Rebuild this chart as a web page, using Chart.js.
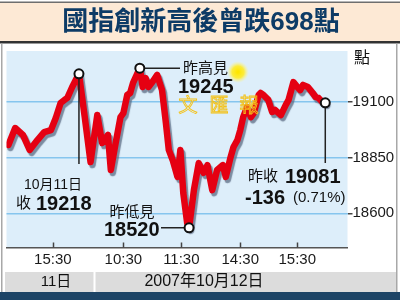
<!DOCTYPE html>
<html>
<head>
<meta charset="utf-8">
<script src="https://cdn.jsdelivr.net/npm/chart.js@4.4.0/dist/chart.umd.min.js"></script>
<style>
    html, body { margin: 0; padding: 0; background: #fff; }
</style>
</head>
<body>
<canvas id="chartCanvas" width="400" height="300"></canvas>
<script>
// minutes on a compressed trading timeline, 0 = 15:30 on the 11th
const times = [-46, -39, -31, -24, -16, -9, -2, 3, 8, 12, 15, 20, 27, 33, 39, 46, 51, 57, 60, 65,
    70, 73, 77, 80, 83, 90, 93, 96, 99, 103, 108, 113, 117, 120, 124, 129, 132, 135, 139, 141,
    146, 151, 156, 160, 165, 170, 176, 179, 184, 187, 191, 194, 197, 201, 205, 208, 213, 215, 218, 223,
    227, 230, 236, 241, 244, 249, 253, 256, 259, 264, 269, 272, 275, 279, 282];
const index = [18906, 18982, 18951, 18884, 18928, 18964, 18973, 19027, 19094, 19108, 19117, 19166, 19225, 19031, 18830, 19040, 18915, 18951, 18794, 18915,
    19031, 19049, 19130, 19139, 19184, 19250, 19166, 19206, 19166, 19188, 19220, 19152, 19005, 18884, 18839, 18763, 18884, 18691, 18557, 18535,
    18704, 18825, 18781, 18816, 18704, 18794, 18816, 18763, 18852, 18897, 18928, 18973, 19031, 19076, 19031, 19049, 19130, 19139, 19130, 19108,
    19054, 19063, 19040, 19085, 19108, 19188, 19166, 19152, 19175, 19166, 19139, 19121, 19117, 19099, 19095];

// marked points: 11th close, day high, day low, close
const markTimes = [27, 90, 141, 282];
const markValues = [19225, 19250, 18535, 19095];

const tickTimes = [0, 73, 133, 194, 253];
const tickLabels = ['15:30', '10:30', '11:30', '14:30', '15:30'];
const levelTicks = [18600, 18850, 19100];

const LATIN = '"Liberation Sans", "Noto Sans CJK TC", sans-serif';
const CJK = '"Liberation Sans", "Noto Sans CJK TC", sans-serif';

function put(ctx, text, x, y, font, align) {
    ctx.font = font;
    ctx.textAlign = align || 'left';
    ctx.textBaseline = 'middle';
    ctx.fillText(text, x, y);
}

const framePlugin = {
    id: 'frame',
    beforeDraw(chart) {
        const ctx = chart.ctx;
        const a = chart.chartArea;
        ctx.save();
        ctx.fillStyle = '#fff';
        ctx.fillRect(0, 0, 400, 300);
        // title band
        ctx.fillStyle = '#fde9d5';
        ctx.fillRect(0, 3, 400, 39);
        ctx.fillStyle = '#6e6e6e';
        ctx.fillRect(0, 1.5, 400, 1.5);
        ctx.fillStyle = '#333';
        ctx.fillRect(0, 41, 400, 2.5);
        // side rules
        ctx.fillStyle = '#a8a8a8';
        ctx.fillRect(1, 43.5, 1.5, 249);
        ctx.fillRect(396, 43.5, 1.5, 249);
        // plot background
        ctx.fillStyle = '#ddeefa';
        ctx.fillRect(a.left, a.top, a.right - a.left, a.bottom - a.top);
        // date band
        ctx.fillStyle = '#dcdcdc';
        ctx.fillRect(5, 272, 391, 20);
        ctx.fillStyle = '#fff';
        ctx.fillRect(93.5, 272, 2, 20);
        ctx.fillStyle = '#1d4466';
        ctx.fillRect(0, 292, 400, 8);
        ctx.restore();
    },
    afterDraw(chart) {
        const ctx = chart.ctx;
        const a = chart.chartArea;
        const xs = chart.scales.x;
        ctx.save();
        // tick marks pointing into the plot
        ctx.strokeStyle = '#444';
        ctx.lineWidth = 1.5;
        tickTimes.forEach(t => {
            const px = Math.round(xs.getPixelForValue(t)) + 0.5;
            ctx.beginPath();
            ctx.moveTo(px, a.bottom - 5);
            ctx.lineTo(px, a.bottom);
            ctx.stroke();
        });

        // title
        ctx.fillStyle = '#0d3b66';
        put(ctx, '國指創新高後曾跌698點', 201, 23, 'bold 26px ' + CJK, 'center');

        ctx.fillStyle = '#111';
        put(ctx, '點', 362, 59, '16px ' + CJK, 'center');

        // date band
        put(ctx, '11日', 56, 282, '15px ' + CJK, 'center');
        put(ctx, '2007年10月12日', 204, 282, '16px ' + CJK, 'center');

        // annotations
        put(ctx, '10月11日', 53, 185, '14px ' + CJK, 'center');
        put(ctx, '收', 16, 204, '15px ' + CJK);
        put(ctx, '19218', 36, 204, 'bold 20px ' + LATIN);

        put(ctx, '昨高見', 183, 69, '15px ' + CJK);
        put(ctx, '19245', 178, 87, 'bold 20px ' + LATIN);

        put(ctx, '昨低見', 132, 213, '15px ' + CJK, 'center');
        put(ctx, '18520', 104, 230, 'bold 20px ' + LATIN);

        put(ctx, '昨收', 248, 177, '15px ' + CJK);
        put(ctx, '19081', 285, 177, 'bold 20px ' + LATIN);
        put(ctx, '-136', 245, 198, 'bold 20px ' + LATIN);
        put(ctx, '(0.71%)', 293, 198, '15px ' + LATIN);

        // sun + watermark
        const g = ctx.createRadialGradient(238, 72, 1, 238, 72, 11);
        g.addColorStop(0, 'rgba(255,230,0,1)');
        g.addColorStop(0.5, 'rgba(255,235,40,0.9)');
        g.addColorStop(1, 'rgba(255,245,150,0)');
        ctx.fillStyle = g;
        ctx.beginPath();
        ctx.arc(238, 72, 11, 0, Math.PI * 2);
        ctx.fill();

        ctx.strokeStyle = '#f3c21a';
        ctx.lineWidth = 0.9;
        ctx.font = '19px ' + CJK;
        ctx.textAlign = 'center';
        ctx.textBaseline = 'middle';
        ctx.strokeText('文', 188, 107);
        ctx.strokeText('匯', 219, 107);
        ctx.strokeText('報', 249, 107);
        ctx.restore();
    },
};

const shadowPlugin = {
    id: 'lineShadow',
    beforeDatasetDraw(chart, args) {
        if (args.index !== 1) return;
        const ctx = chart.ctx;
        ctx.save();
        ctx.shadowColor = 'rgba(90,105,130,0.75)';
        ctx.shadowOffsetX = 2;
        ctx.shadowOffsetY = 3;
        ctx.shadowBlur = 1;
    },
    afterDatasetDraw(chart, args) {
        if (args.index !== 1) return;
        const ctx = chart.ctx;
        ctx.restore();
        // leader lines from the marked points
        const xs = chart.scales.x, ys = chart.scales.y;
        const p = markTimes.map((t, i) => [xs.getPixelForValue(t), ys.getPixelForValue(markValues[i])]);
        ctx.save();
        ctx.strokeStyle = '#222';
        ctx.lineWidth = 1.5;
        ctx.beginPath();
        ctx.moveTo(p[0][0], p[0][1]); ctx.lineTo(p[0][0], 164);
        ctx.moveTo(p[1][0], p[1][1]); ctx.lineTo(180, p[1][1]);
        ctx.moveTo(p[2][0], p[2][1]); ctx.lineTo(161, p[2][1]);
        ctx.moveTo(p[3][0], p[3][1]); ctx.lineTo(p[3][0], 163);
        ctx.stroke();
        ctx.restore();
    },
};

new Chart(document.getElementById('chartCanvas'), {
    type: 'line',
    data: {
        datasets: [{
            type: 'scatter',
            data: markTimes.map((t, i) => ({ x: t, y: markValues[i] })),
            pointRadius: 4.5,
            pointBackgroundColor: '#fff',
            pointBorderColor: '#111',
            pointBorderWidth: 2,
            order: 0,
        }, {
            data: times.map((t, i) => ({ x: t, y: index[i] })),
            borderColor: '#e50012',
            borderWidth: 6.5,
            borderJoinStyle: 'round',
            borderCapStyle: 'round',
            pointRadius: 0,
            tension: 0,
            order: 1,
        }],
    },
    options: {
        responsive: false,
        animation: false,
        devicePixelRatio: 1,
        layout: { padding: { left: 6, top: 51, right: 0, bottom: 0 } },
        plugins: {
            legend: { display: false },
            tooltip: { enabled: false },
        },
        scales: {
            x: {
                type: 'linear',
                min: -48,
                max: 305,
                afterBuildTicks(scale) {
                    scale.ticks = tickTimes.map(v => ({ value: v }));
                },
                afterFit(scale) { scale.height = 52.5; },
                ticks: {
                    autoSkip: false,
                    maxRotation: 0,
                    padding: 3,
                    color: '#1a1a1a',
                    font: { family: LATIN, size: 15 },
                    callback: (v, i) => tickLabels[i],
                },
                grid: { drawOnChartArea: false, drawTicks: false },
                border: { display: true, color: '#555', width: 1.5 },
            },
            y: {
                position: 'right',
                min: 18447,
                max: 19327,
                afterBuildTicks(scale) {
                    scale.ticks = levelTicks.map(v => ({ value: v }));
                },
                afterFit(scale) { scale.width = 52.5; },
                ticks: {
                    padding: 0,
                    color: '#1a1a1a',
                    font: { family: LATIN, size: 15 },
                    callback: v => String(v),
                },
                grid: {
                    color: '#86c5ee',
                    lineWidth: 1.5,
                    tickColor: '#444',
                    tickLength: 5,
                },
                border: { display: false },
            },
        },
    },
    plugins: [framePlugin, shadowPlugin],
});
</script>
</body>
</html>
